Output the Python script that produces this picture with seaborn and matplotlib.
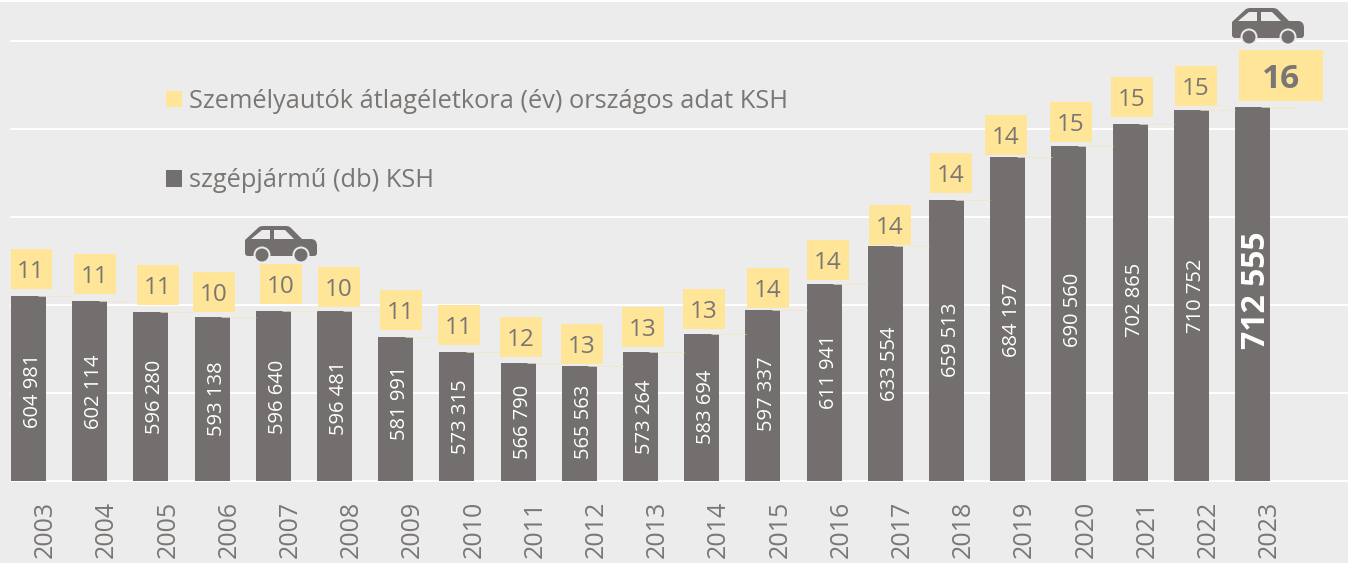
import matplotlib
matplotlib.use('Agg')
import matplotlib.pyplot as plt
import seaborn as sns
import pandas as pd
from matplotlib.patches import Rectangle, Patch, Circle, PathPatch, Polygon
from matplotlib.path import Path
from matplotlib.transforms import Affine2D, ScaledTranslation

# Adatok
years = ['2003', '2004', '2005', '2006', '2007', '2008', '2009', '2010', '2011', '2012', '2013',
         '2014', '2015', '2016', '2017', '2018', '2019', '2020', '2021', '2022', '2023']
vehicles = [604981, 602114, 596280, 593138, 596640, 596481, 581991, 573315, 566790, 565563, 573264,
            583694, 597337, 611941, 633554, 659513, 684197, 690560, 702865, 710752, 712555]
ages = [11, 11, 11, 10, 10, 10, 11, 11, 12, 13, 13, 13, 14, 14, 14, 14, 14, 15, 15, 15, 16]
legend_labels = ['Személyautók átlagéletkora (év) országos adat KSH', 'szgépjármű (db) KSH']
grid_values = [500000, 550000, 600000, 650000, 700000, 750000]

# Címkék eltolása pixelben (oszlop közepéhez / tetejéhez képest)
box_dx = [2.5, 5.3, 7.1, 1.9, 7.7, 4.5, 5.3, 2.1, 2.9, 2.7, 2.5, 2.3, 5.1, 3.9, 4.7, 4.5, -1.7, 2.1, 1.9, 4.7, 28.5]
box_gap = [27, 27, 27, 25, 27, 24, 27, 27, 26, 22, 25, 25, 22, 24, 21, 27, 22, 24, 27, 24, 31]
value_dy = [2.5, 1, 0.5, 0, 1, 2, -6, 0.5, -0.5, -1.5, 0.5, -0.5, -1.5, -10.5, 0.5, -0.5, 1, -3, -2.5, 0.5, -4]

W, H = 1348, 563
BG = '#ececec'
BAR = '#736f6e'
YELLOW = '#ffe597'
TXT = '#7a7674'
PX_X = 61.2          # egy kategória szélessége pixelben
PX_Y = 568.2         # egy pixel értéke az y tengelyen

sns.set_style('white')
plt.rcParams['font.family'] = ['Open Sans', 'DejaVu Sans']

fig = plt.figure(figsize=(W / 100, H / 100), dpi=100, facecolor='white')
fig.patches.append(Rectangle((0, 0), 1, 1 - 2 / H, transform=fig.transFigure, facecolor=BG, edgecolor='none', zorder=-10))

ax = fig.add_axes([11 / W, (H - 481) / H, (W - 11) / W, 481 / H])
ax.patch.set_alpha(0)

df = pd.DataFrame({'year': years, 'db': vehicles})
sns.barplot(data=df, x='year', y='db', color=BAR, saturation=1, width=35 / PX_X, ax=ax, zorder=3,
            linewidth=0, edgecolor='none')

ax.set_xlim(-(28.5 - 11) / PX_X, (W - 28.5) / PX_X)
ax.set_ylim(500000, 500000 + 481 * PX_Y)
ax.set_xlabel('')
ax.set_ylabel('')
ax.set_yticks(grid_values)
ax.set_yticklabels([])
ax.tick_params(axis='both', length=0)
sns.despine(ax=ax, left=True, bottom=True, right=True, top=True)
for g in grid_values:
    ax.axhline(g, color='white', lw=1.5, zorder=1, clip_on=False)

# Évszámok
ax.set_xticks(range(len(years)))
ax.set_xticklabels(years, rotation=90, fontsize=18, color=TXT, va='top', ha='center')
ax.tick_params(axis='x', pad=14)
for lab in ax.get_xticklabels():
    lab.set_transform(lab.get_transform() + ScaledTranslation(17 / 100, 0, fig.dpi_scale_trans))

for i, (v, a) in enumerate(zip(vehicles, ages)):
    last = i == len(years) - 1
    # halvány vezetővonal az oszlop tetejétől jobbra
    ax.hlines(v, i + 9 / PX_X, i + 44 / PX_X, color='#f3e6bf', lw=0.5, zorder=4)

    # évek sárga doboza
    bw, bh = (84, 51) if last else (42, 40)
    cx = i + box_dx[i] / PX_X
    cy = v + box_gap[i] * PX_Y
    ax.add_patch(Rectangle((cx - bw / 2 / PX_X, cy - bh / 2 * PX_Y), bw / PX_X, bh * PX_Y,
                           facecolor=YELLOW, edgecolor='none', zorder=5))
    ax.text(cx, cy, str(a), ha='center', va='center_baseline', color=TXT, zorder=6,
            fontsize=24 if last else 17.5, fontweight='bold' if last else 'normal')

    # darabszám az oszlopban
    label = f'{v:,}'.replace(',', ' ')
    ax.text(i + 4.5 / PX_X, (500000 + v) / 2 - value_dy[i] * PX_Y, label, rotation=90,
            ha='center', va='center', color='white', zorder=6,
            fontsize=23 if last else 14.5, fontweight='bold' if last else 'normal')

# Jelmagyarázat
handles = [Patch(facecolor=YELLOW, edgecolor='none'), Patch(facecolor=BAR, edgecolor='none')]
leg = fig.legend(handles, legend_labels, loc='upper left', bbox_to_anchor=(166 / W, 1 - 89 / H), borderaxespad=0,
                 borderpad=0, frameon=False, fontsize=18.3, labelcolor=TXT, handlelength=0.63, handleheight=0.63,
                 handletextpad=0.28, labelspacing=2.13)


def car(x0, y0):
    # autó ikon pixel koordinátákban, bal felső sarok (x0, y0)
    tr = Affine2D().scale(1, -1).translate(x0, H - y0).scale(1 / W, 1 / H) + fig.transFigure
    M, L, C = Path.MOVETO, Path.LINETO, Path.CURVE3
    body = [((0, 27), M), ((0, 14), L), ((14, 1), L), ((16, 0), C), ((18, 0), C), ((41, 0), L),
            ((43, 0), C), ((45, 1), C), ((57, 13), L), ((66, 13), L), ((72, 13), C), ((72, 20), C),
            ((72, 27), L), ((72, 30), C), ((69, 30), C), ((3, 30), L), ((0, 30), C), ((0, 27), C)]
    patches = [PathPatch(Path([p for p, _ in body], [c for _, c in body]), facecolor=BAR, edgecolor='none')]
    patches.append(Polygon([(6, 13), (17, 4), (25, 4), (25, 13)], facecolor=BG, edgecolor='none'))
    patches.append(Polygon([(29, 4), (40, 4), (49, 13), (29, 13)], facecolor=BG, edgecolor='none'))
    for wx in (17, 56):
        patches.append(Circle((wx, 29), 8.5, facecolor=BG, edgecolor='none'))
        patches.append(Circle((wx, 29), 6.5, facecolor=BAR, edgecolor='none'))
    for p in patches:
        p.set_transform(tr)
        p.set_zorder(7)
        fig.add_artist(p)


car(245, 226)
car(1232, 8)

fig.savefig('out.png', dpi=100, facecolor=fig.get_facecolor())
